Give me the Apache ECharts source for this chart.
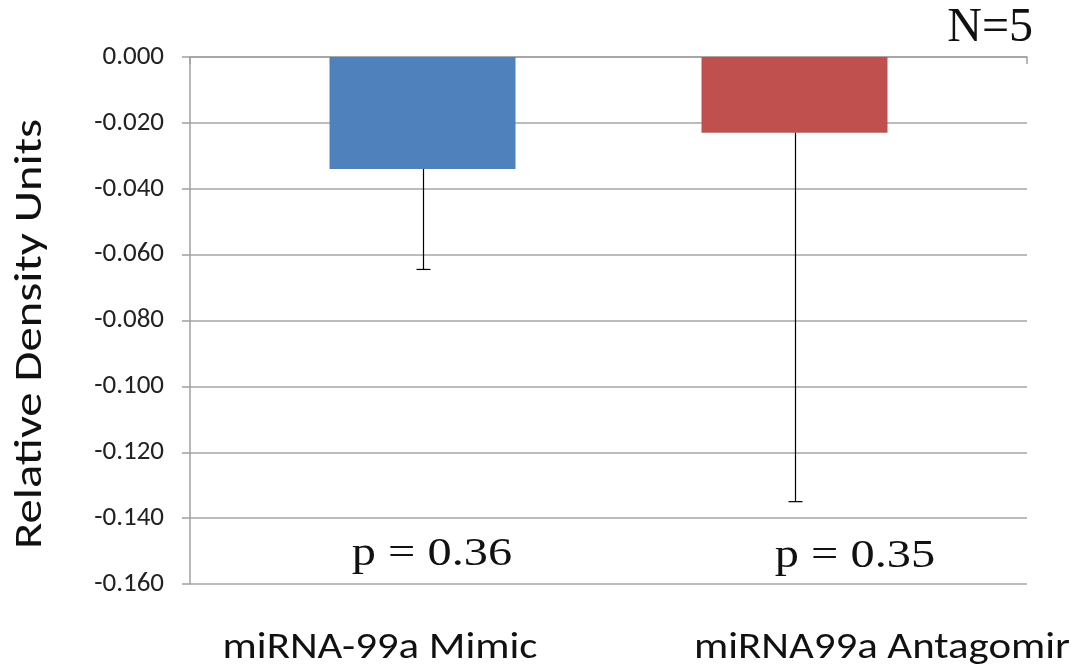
<!DOCTYPE html>
<html>
<head>
<meta charset="utf-8">
<script src="https://cdn.jsdelivr.net/npm/echarts@6/dist/echarts.min.js"></script>
<style>
  html, body { margin: 0; padding: 0; background: #fff; }
  #chart { width: 1083px; height: 671px; }
</style>
</head>
<body>
<div id="chart"></div>
<script>
// Groups, mean change and standard deviation (relative density units)
const groups = ['miRNA-99a Mimic', 'miRNA99a Antagomir'];
const means = [-0.034, -0.023];
const sds = [0.0305, 0.112];
const pValues = ['p = 0.36', 'p = 0.35'];
const sampleSize = 'N=5';
const colors = ['#4F81BD', '#C0504D'];

const BAR_WIDTH = 186;
const BAR_GAP = 1; // gap between bars as a fraction of bar width
const sansFont = 'Carlito, Calibri, Lato, sans-serif';
const serifFont = '"Liberation Serif", "DejaVu Serif", serif';

const chart = echarts.init(document.getElementById('chart'), null, { renderer: 'canvas' });

// Minus-direction error bar with a small cap, placed over the matching bar
function errorSeries(i) {
  const offset = (i - (groups.length - 1) / 2) * BAR_WIDTH * (1 + BAR_GAP);
  return {
    type: 'custom',
    name: groups[i] + ' SD',
    z: 5,
    data: [[0, means[i], means[i] - sds[i]]],
    encode: { x: 0, y: [1, 2] },
    renderItem: function (params, api) {
      const top = api.coord([api.value(0), api.value(1)]);
      const bottom = api.coord([api.value(0), api.value(2)]);
      const x = Math.round(top[0] + offset) + 0.5;
      const capHalf = 7;
      const style = { stroke: '#000', lineWidth: 1.2 };
      return {
        type: 'group',
        children: [
          { type: 'line', shape: { x1: x, y1: top[1], x2: x, y2: bottom[1] }, style: style },
          { type: 'line', shape: { x1: x - capHalf, y1: bottom[1], x2: x + capHalf, y2: bottom[1] }, style: style }
        ]
      };
    }
  };
}

const barSeries = groups.map(function (name, i) {
  return {
    type: 'bar',
    name: name,
    data: [means[i]],
    barWidth: BAR_WIDTH,
    barGap: (BAR_GAP * 100) + '%',
    itemStyle: { color: colors[i] },
    z: 2
  };
});

function label(text, x, y, font, scaleX, rotation, align) {
  return {
    type: 'text', x: x, y: y, rotation: rotation || 0, scaleX: scaleX || 1,
    style: {
      text: text, font: font, fill: '#111',
      align: align || 'center', verticalAlign: 'middle'
    }
  };
}

chart.setOption({
  backgroundColor: '#fff',
  animation: false,
  grid: { left: 190, right: 56, top: 57, bottom: 87 },
  xAxis: {
    type: 'category',
    data: ['all'],
    axisLine: { onZero: true, lineStyle: { color: '#a0a0a0', width: 1.5 } },
    axisTick: { show: true, length: 7, lineStyle: { color: '#a0a0a0', width: 1.5 } },
    axisLabel: { show: false }
  },
  yAxis: {
    type: 'value',
    min: -0.16,
    max: 0,
    interval: 0.02,
    axisLine: { show: true, lineStyle: { color: '#a0a0a0', width: 1.5 } },
    axisTick: { show: true, length: 8, lineStyle: { color: '#a0a0a0', width: 1.5 } },
    splitLine: { lineStyle: { color: '#a6a6a6', width: 1.5 } },
    axisLabel: {
      fontFamily: sansFont,
      fontSize: 27,
      color: '#222',
      margin: 26,
      formatter: function (v) { return (Math.abs(v) < 1e-9 ? 0 : v).toFixed(3); }
    }
  },
  series: barSeries.concat(groups.map(function (g, i) { return errorSeries(i); })),
  graphic: [
    label('Relative Density Units', 31, 334, '38px ' + sansFont, 1.28, Math.PI / 2),
    label(sampleSize, 1033, 28, '48px ' + serifFont, 1, 0, 'right'),
    label(pValues[0], 432, 554, '41px ' + serifFont, 1.18),
    label(pValues[1], 855, 556, '41px ' + serifFont, 1.18),
    label(groups[0], 380, 649, '36px ' + sansFont, 1.19),
    label(groups[1], 882, 649, '36px ' + sansFont, 1.19)
  ]
});
</script>
</body>
</html>
